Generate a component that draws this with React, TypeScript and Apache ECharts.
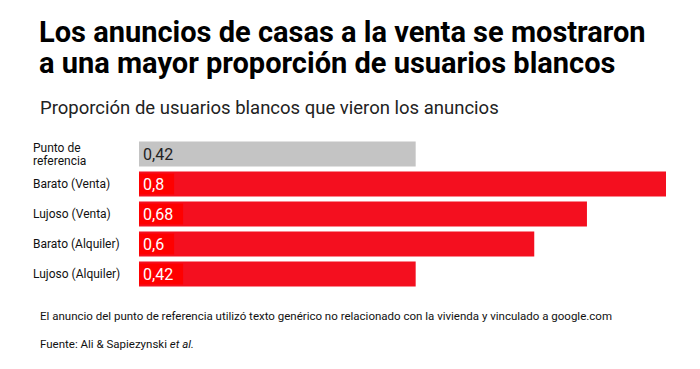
import React, { useEffect, useRef } from "react";
import * as echarts from "echarts";

const categories = [
  "Punto de\nreferencia",
  "Barato (Venta)",
  "Lujoso (Venta)",
  "Barato (Alquiler)",
  "Lujoso (Alquiler)",
];
const values = [0.42, 0.8, 0.68, 0.6, 0.42];
const isReference = [true, false, false, false, false];

const titleLines = [
  "Los anuncios de casas a la venta se mostraron",
  "a una mayor proporción de usuarios blancos",
];
const subtitle = "Proporción de usuarios blancos que vieron los anuncios";
const footnote =
  "El anuncio del punto de referencia utilizó texto genérico no relacionado con la vivienda y vinculado a google.com";

const RED = "#f40f1f";
const RED_LABEL = "#fe0000";
const GREY = "#c4c4c4";

export default function App() {
  const ref = useRef<HTMLDivElement>(null);
  useEffect(() => {
    document.body.style.margin = "0";
    const chart = echarts.init(ref.current!, null, { renderer: "svg" });
    const fmt = (v: number) => String(v).replace(".", ",");
    chart.setOption({
      animation: false,
      backgroundColor: "#ffffff",
      title: [
        {
          text: titleLines.join("\n"),
          left: 34,
          top: 11,
          textStyle: {
            fontFamily: "Roboto",
            fontWeight: "bold",
            fontSize: 29,
            lineHeight: 31,
            color: "#000",
          },
        },
        {
          text: subtitle,
          left: 35,
          top: 93,
          textStyle: {
            fontFamily: "Roboto",
            fontWeight: "normal",
            fontSize: 18.5,
            color: "#222",
          },
        },
        {
          text: footnote,
          left: 35,
          top: 305,
          textStyle: {
            fontFamily: "Roboto",
            fontWeight: "normal",
            fontSize: 11.5,
            color: "#111",
          },
        },
        {
          text: "{a|Fuente: Ali & Sapiezynski }{b|et al.}",
          left: 35,
          top: 333,
          textStyle: {
            fontWeight: "normal",
            rich: {
              a: {
                fontFamily: "Roboto",
                fontWeight: "normal",
                fontSize: 11.5,
                color: "#111",
              },
              b: {
                fontFamily: "Roboto",
                fontWeight: "normal",
                fontSize: 11.5,
                fontStyle: "italic",
                color: "#111",
              },
            },
          },
        },
      ],
      grid: { left: 139, top: 139, width: 527, height: 150, containLabel: false },
      xAxis: {
        type: "value",
        min: 0,
        max: 0.8,
        show: false,
      },
      yAxis: {
        type: "category",
        data: categories,
        inverse: true,
        axisLine: { show: false },
        axisTick: { show: false },
        splitLine: { show: false },
        axisLabel: {
          align: "left",
          margin: 106,
          fontFamily: "Roboto",
          fontSize: 12,
          lineHeight: 13,
          color: "#111",
        },
      },
      series: [
        {
          type: "bar",
          barWidth: 25,
          data: values.map((v, i) => ({
            value: v,
            itemStyle: { color: isReference[i] ? GREY : RED },
            label: isReference[i]
              ? {
                  color: "#222",
                  backgroundColor: GREY,
                }
              : {
                  color: "#fff",
                  backgroundColor: RED_LABEL,
                },
          })),
          label: {
            show: true,
            position: "insideLeft",
            distance: 0,
            padding: [3, 10, 2, 4],
            fontFamily: "Roboto",
            fontSize: 16,
            formatter: (p: any) => fmt(p.value),
          },
        },
      ],
    });
    return () => chart.dispose();
  }, []);
  return <div ref={ref} style={{ width: 700, height: 369 }} />;
}
